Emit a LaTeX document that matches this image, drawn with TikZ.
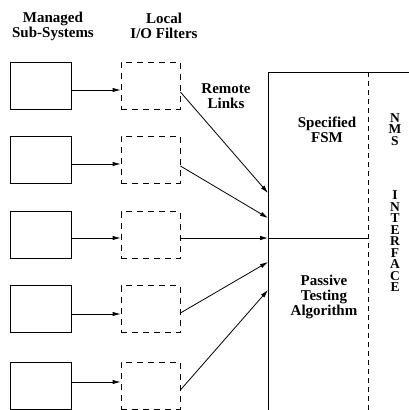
\documentclass[tikz,border=0pt]{standalone}
\usepackage{fontspec}
\setmainfont{Liberation Serif}
\usetikzlibrary{arrows.meta}
\begin{document}
\begin{tikzpicture}[x=1pt,y=-1pt,
  line width=0.8pt,
  subsys/.style={draw,rectangle,inner sep=0pt,minimum width=61pt,minimum height=47pt},
  filterbox/.style={draw,rectangle,inner sep=0pt,minimum width=59pt,minimum height=47pt,dash pattern=on 6pt off 5pt},
  arr/.style={-{Latex[length=8pt,width=4.5pt]}},
  lbl/.style={font=\fontsize{15}{15}\selectfont\bfseries,align=center,anchor=base,inner sep=0pt},
  vlbl/.style={font=\fontsize{13.5}{11.5}\selectfont\bfseries,align=center,anchor=base,inner sep=0pt}
]
\useasboundingbox (0,0) rectangle (408,410);
% headings
\node[lbl] (hms) at (53,37) {Managed\\Sub-Systems};
\node[lbl] (hlf) at (164,38) {Local\\I/O Filters};
\node[lbl] (hrl) at (226,108) {Remote\\Links};
% managed sub-systems
\node[subsys] (ms1) at (40.5,85.5) {};
\node[subsys] (ms2) at (40.5,159.5) {};
\node[subsys] (ms3) at (40.5,235) {};
\node[subsys] (ms4) at (40.5,309) {};
\node[subsys] (ms5) at (40.5,385.5) {};
% filters
\node[filterbox] (f1) at (150.5,85.5) {};
\node[filterbox] (f2) at (150.5,159.5) {};
\node[filterbox] (f3) at (150.5,235) {};
\node[filterbox] (f4) at (150.5,309) {};
\node[filterbox] (f5) at (150.5,385.5) {};
% big box
\coordinate (bbl) at (268,414);
\coordinate (btl) at (268,72);
\coordinate (btr) at (412,72);
\draw (bbl) -- (btl) -- (btr);
\coordinate (dtop) at (368,72);
\coordinate (dbot) at (368,414);
\draw[dash pattern=on 5pt off 4pt] (dtop) -- (dbot);
\coordinate (in1) at (268,193);
\coordinate (in2) at (268,218);
\coordinate (in3) at (268,238);
\coordinate (in4) at (268,262);
\coordinate (in5) at (268,290);
\coordinate (hr) at (368,238);
\draw (in3) -- (hr);
% arrows sub-system -> filter
\draw[arr] ([yshift=-4.5pt]ms1.east) -- ([yshift=-4.5pt]f1.west);
\draw[arr] ([yshift=-4.5pt]ms2.east) -- ([yshift=-4.5pt]f2.west);
\draw[arr] ([yshift=-3pt]ms3.east) -- ([yshift=-3pt]f3.west);
\draw[arr] ([yshift=-5pt]ms4.east) -- ([yshift=-5pt]f4.west);
\draw[arr] ([yshift=3.5pt]ms5.east) -- ([yshift=3.5pt]f5.west);
% arrows filter -> FSM box
\draw[arr] ([yshift=-6.5pt]f1.east) -- (in1);
\draw[arr] ([yshift=-6.5pt]f2.east) -- (in2);
\draw[arr] ([yshift=-3pt]f3.east) -- (in3);
\draw[arr] ([yshift=-4pt]f4.east) -- (in4);
\draw[arr] ([yshift=-4.5pt]f5.east) -- (in5);
% inner labels
\node[lbl] (fsm) at (327,142) {Specified\\FSM};
\node[lbl] (pta) at (324,315) {Passive\\Testing\\Algorithm};
\node[vlbl] (nms) at (395,145) {N\\M\\S};
\node[vlbl] (intf) at (395,291.5) {I\\N\\T\\E\\R\\F\\A\\C\\E};
\end{tikzpicture}
\end{document}
